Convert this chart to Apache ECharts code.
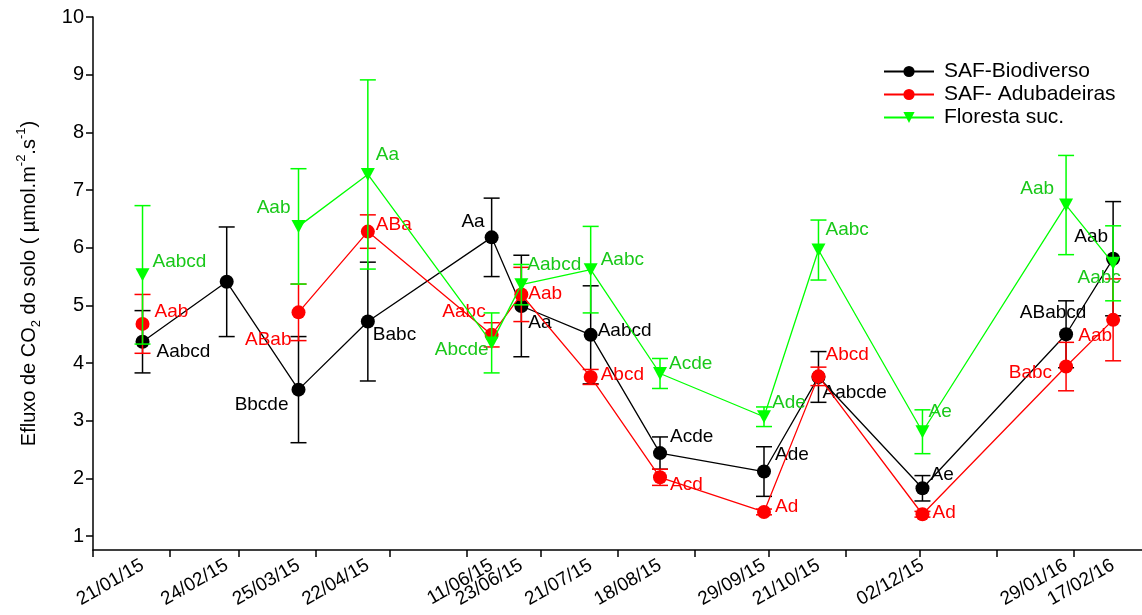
<!DOCTYPE html>
<html>
<head>
<meta charset="utf-8">
<script src="https://cdn.jsdelivr.net/npm/echarts@6/dist/echarts.min.js"></script>
<style>
html,body{margin:0;padding:0;background:#fff;}
#chart{width:1142px;height:615px;}
</style>
</head>
<body>
<div id="chart"></div>
<script>
// ---- data ----
const dates = ['2015-01-21','2015-02-24','2015-03-25','2015-04-22','2015-06-11','2015-06-23','2015-07-21','2015-08-18','2015-09-29','2015-10-21','2015-12-02','2016-01-29','2016-02-17'];
const dateLabels = ['21/01/15','24/02/15','25/03/15','22/04/15','11/06/15','23/06/15','21/07/15','18/08/15','29/09/15','21/10/15','02/12/15','29/01/16','17/02/16'];
const seriesNames = ['SAF-Biodiverso','SAF- Adubadeiras','Floresta suc.'];

const biodiverso    = [4.37, 5.41, 3.54, 4.72, 6.18, 4.99, 4.49, 2.44, 2.12, 3.76, 1.83, 4.50, 5.81];
const biodiversoErr = [0.54, 0.95, 0.92, 1.03, 0.68, 0.88, 0.85, 0.28, 0.43, 0.44, 0.22, 0.58, 0.99];
const biodiversoLetters = ['Aabcd', '', 'Bbcde', 'Babc', 'Aa', 'Aa', 'Aabcd', 'Acde', 'Ade', 'Aabcde', 'Ae', 'ABabcd', 'Aab'];

const adubadeiras    = [4.68, null, 4.88, 6.28, 4.49, 5.19, 3.76, 2.02, 1.42, 3.77, 1.38, 3.94, 4.75];
const adubadeirasErr = [0.51, null, 0.49, 0.29, 0.21, 0.47, 0.13, 0.14, 0.05, 0.16, 0.05, 0.42, 0.71];
const adubadeirasLetters = ['Aab', '', 'ABab', 'ABa', 'Aabc', 'Aab', 'Abcd', 'Acd', 'Ad', 'Abcd', 'Ad', 'Babc', 'Aab'];

const floresta    = [5.53, null, 6.37, 7.27, 4.35, 5.36, 5.62, 3.82, 3.07, 5.96, 2.81, 6.74, 5.73];
const florestaErr = [1.20, null, 1.00, 1.64, 0.52, 0.35, 0.75, 0.26, 0.17, 0.52, 0.38, 0.86, 0.65];
const florestaLetters = ['Aabcd', '', 'Aab', 'Aa', 'Abcde', 'Aabcd', 'Aabc', 'Acde', 'Ade', 'Aabc', 'Ae', 'Aab', 'Aabc'];

const yTicks = [1, 2, 3, 4, 5, 6, 7, 8, 9, 10];

// ---- layout / style (not data) ----
const labelLayout = {
  black: [[14,10,'left'],[0,0,'left'],[-10,15,'right'],[5,13,'left'],[-7,-16,'right'],[7,17,'left'],[7,-4,'left'],[10,-16,'left'],[11,-17,'left'],[4,16,'left'],[8,-14,'left'],[-13,-21,'center'],[-5,-22,'right']],
  red:   [[12,-12,'left'],[0,0,'left'],[-7,27,'right'],[8,-7,'left'],[-6,-23,'right'],[7,-1,'left'],[10,-2,'left'],[10,7,'left'],[11,-5,'left'],[7,-22,'left'],[10,-1,'left'],[-14,6,'right'],[-1,16,'right']],
  green: [[10,-13,'left'],[0,0,'left'],[-8,-19,'right'],[8,-20,'left'],[-3,7,'right'],[6,-20,'left'],[10,-10,'left'],[9,-10,'left'],[8,-14,'left'],[7,-20,'left'],[6,-20,'left'],[-12,-16,'right'],[-14,14,'center']]
};
const BLACK = '#000000', RED = '#ff0000', GREEN = '#00ff00', GREEN_TXT = '#19c819';
const FONT = 'Liberation Sans, Arial, Helvetica, sans-serif';

function ts(s){ const p = s.split('-').map(Number); return new Date(p[0], p[1]-1, p[2]).getTime(); }
const monthTicks = [];
for (let i = 0; i < 14; i++) monthTicks.push(new Date(2015, i, 1).getTime());
const labelTs = dates.map(ts);

function lineData(vals, letters, layout, txtColor){
  return vals.map((v, i) => {
    if (v === null) return [ts(dates[i]), null];
    const l = layout[i];
    return {
      value: [ts(dates[i]), v],
      label: {
        show: !!letters[i], formatter: letters[i], position: 'inside',
        offset: [l[0], l[1]], align: l[2], verticalAlign: 'middle',
        color: txtColor, fontSize: 19, fontFamily: FONT
      }
    };
  });
}
function errData(vals, errs){
  const out = [];
  vals.forEach((v, i) => { if (v !== null) out.push([ts(dates[i]), v - errs[i], v + errs[i]]); });
  return out;
}
function errSeries(vals, errs, color, z){
  return {
    type: 'custom', silent: true, z: z,
    data: errData(vals, errs),
    encode: { x: 0, y: [1, 2] },
    renderItem: function(params, api){
      const x = api.value(0);
      const pLo = api.coord([x, api.value(1)]);
      const pHi = api.coord([x, api.value(2)]);
      const w = 8;
      const st = { stroke: color, lineWidth: 1.5 };
      return { type: 'group', children: [
        { type: 'line', shape: { x1: pLo[0], y1: pLo[1], x2: pHi[0], y2: pHi[1] }, style: st },
        { type: 'line', shape: { x1: pHi[0]-w, y1: pHi[1], x2: pHi[0]+w, y2: pHi[1] }, style: st },
        { type: 'line', shape: { x1: pLo[0]-w, y1: pLo[1], x2: pLo[0]+w, y2: pLo[1] }, style: st }
      ]};
    }
  };
}

const chart = echarts.init(document.getElementById('chart'), null, { renderer: 'canvas' });
chart.setOption({
  backgroundColor: '#ffffff',
  animation: false,
  grid: { left: 93, top: 17, right: 0, bottom: 65, outerBoundsMode: 'none', containLabel: false },
  legend: {
    orient: 'vertical', left: 878, top: 56, itemGap: 2,
    itemWidth: 50, itemHeight: 14,
    textStyle: { fontSize: 21, color: '#000', fontFamily: FONT, padding: [0, 0, 0, 5] },
    data: seriesNames
  },
  xAxis: {
    type: 'value',
    min: new Date(2015, 0, 1).getTime(),
    max: new Date(2016, 1, 28, 16).getTime(),
    axisLine: { show: true, onZero: false, lineStyle: { color: '#000', width: 1.5 } },
    axisTick: { show: true, inside: false, length: 7, customValues: monthTicks, lineStyle: { color: '#000', width: 1.5 } },
    axisLabel: {
      show: true, rotate: 30, margin: 14, color: '#000', fontSize: 19, fontFamily: FONT,
      customValues: labelTs, hideOverlap: false,
      formatter: function(v){ const i = labelTs.indexOf(v); return i >= 0 ? dateLabels[i] : ''; }
    },
    splitLine: { show: false }
  },
  yAxis: {
    type: 'value', min: 0.76, max: 10,
    name: 'Efluxo de CO{sub|2} do solo ( µmol.m{sup|-2}.s{sup|-1})',
    nameLocation: 'middle', nameGap: 50, nameRotate: 90,
    nameTextStyle: {
      fontSize: 20, color: '#000', fontFamily: FONT, lineHeight: 28,
      rich: {
        sub: { fontSize: 13, verticalAlign: 'bottom', lineHeight: 28, color: '#000', fontFamily: FONT, padding: [9, 0, 0, 0] },
        sup: { fontSize: 13, verticalAlign: 'top', lineHeight: 28, color: '#000', fontFamily: FONT, padding: [0, 0, 9, 0] }
      }
    },
    axisLine: { show: true, lineStyle: { color: '#000', width: 1.5 } },
    axisTick: { show: true, length: 7, customValues: yTicks, lineStyle: { color: '#000', width: 1.5 } },
    axisLabel: { show: true, customValues: yTicks, color: '#000', fontSize: 20, fontFamily: FONT, margin: 9 },
    splitLine: { show: false }
  },
  series: [
    errSeries(biodiverso, biodiversoErr, BLACK, 2),
    errSeries(adubadeiras, adubadeirasErr, RED, 4),
    errSeries(floresta, florestaErr, GREEN, 6),
    {
      name: seriesNames[0], type: 'line', z: 3,
      data: lineData(biodiverso, biodiversoLetters, labelLayout.black, BLACK),
      symbol: 'circle', symbolSize: 14, connectNulls: false,
      itemStyle: { color: BLACK }, lineStyle: { color: BLACK, width: 1.3 }
    },
    {
      name: seriesNames[1], type: 'line', z: 5,
      data: lineData(adubadeiras, adubadeirasLetters, labelLayout.red, RED),
      symbol: 'circle', symbolSize: 14, connectNulls: false,
      itemStyle: { color: RED }, lineStyle: { color: RED, width: 1.3 }
    },
    {
      name: seriesNames[2], type: 'line', z: 7,
      data: lineData(floresta, florestaLetters, labelLayout.green, GREEN_TXT),
      symbol: 'triangle', symbolRotate: 180, symbolSize: [14, 13], connectNulls: false,
      itemStyle: { color: GREEN }, lineStyle: { color: GREEN, width: 1.3 }
    }
  ]
});
</script>
</body>
</html>
